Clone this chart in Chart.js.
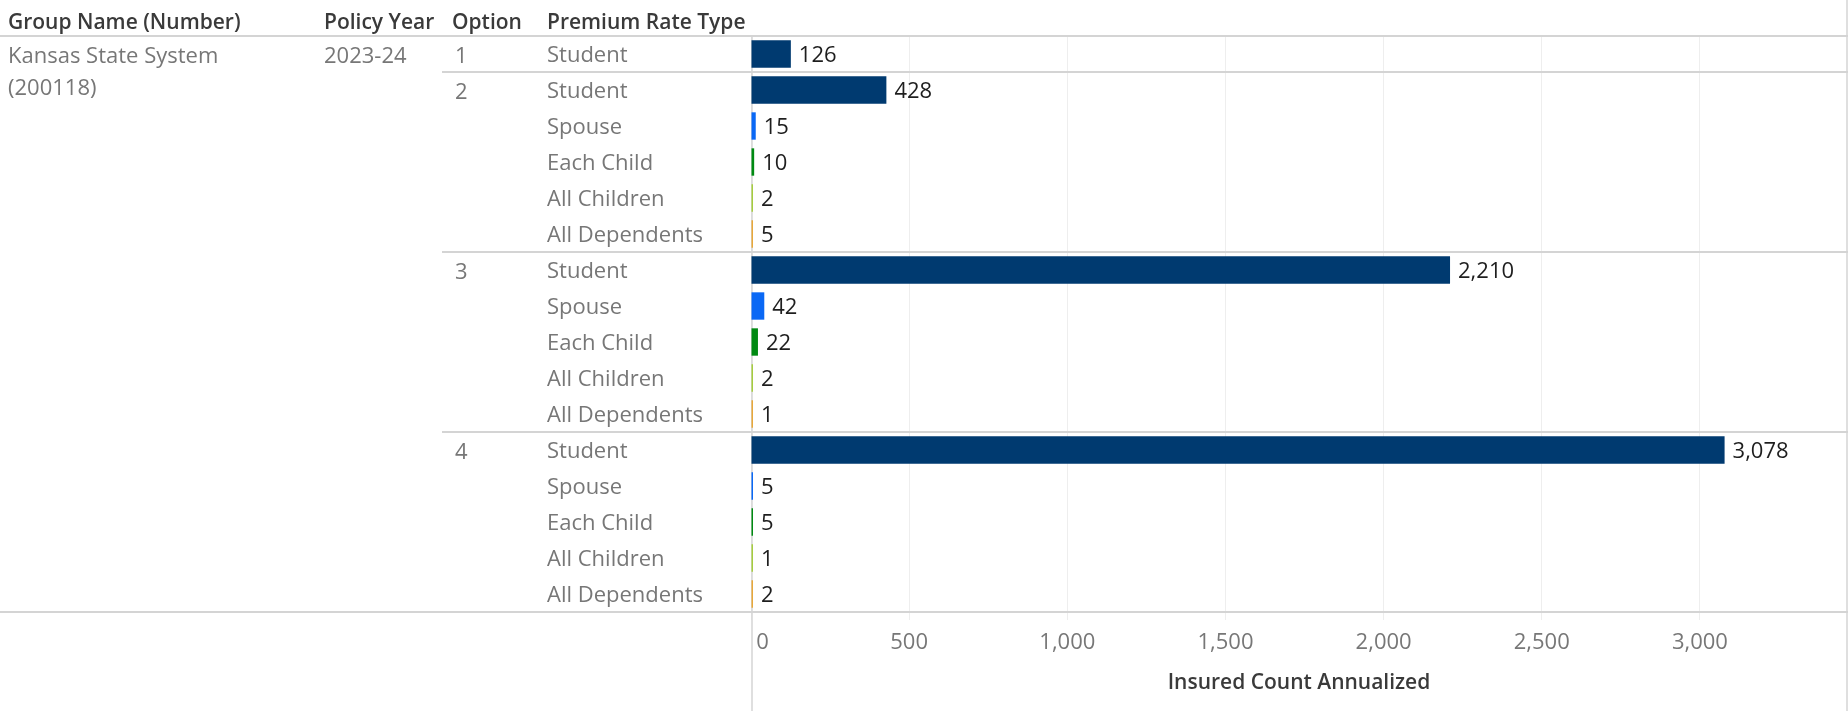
<!DOCTYPE html>
<html>
<head>
<meta charset="utf-8">
<script src="https://cdn.jsdelivr.net/npm/chart.js@4/dist/chart.umd.min.js"></script>
<style>
  html, body { margin: 0; padding: 0; background: #fff; overflow: hidden; }
  #wrap { position: relative; width: 1848px; height: 711px; }
</style>
</head>
<body>
<div id="wrap"><canvas id="chart"></canvas></div>
<script>
var headers = ['Group Name (Number)', 'Policy Year', 'Option', 'Premium Rate Type'];
var groupName = ['Kansas State System', '(200118)'];
var policyYear = '2023-24';
var options = ['1', '2', '3', '4'];
var optionSizes = [1, 5, 5, 5];
var rateTypes = [
  'Student',
  'Student', 'Spouse', 'Each Child', 'All Children', 'All Dependents',
  'Student', 'Spouse', 'Each Child', 'All Children', 'All Dependents',
  'Student', 'Spouse', 'Each Child', 'All Children', 'All Dependents'
];
var insuredCount = [
  126,
  428, 15, 10, 2, 5,
  2210, 42, 22, 2, 1,
  3078, 5, 5, 1, 2
];
var xTicks = [0, 500, 1000, 1500, 2000, 2500, 3000];
var axisTitle = 'Insured Count Annualized';

var FONT = '"Open Sans", sans-serif';
var rateColors = {
  'Student': '#003a70',
  'Spouse': '#0a68f5',
  'Each Child': '#008a12',
  'All Children': '#a6cd3e',
  'All Dependents': '#e8a83a'
};

function hline(ctx, x1, x2, y) {
  ctx.beginPath(); ctx.moveTo(x1, y); ctx.lineTo(x2, y); ctx.stroke();
}
function vline(ctx, x, y1, y2) {
  ctx.beginPath(); ctx.moveTo(x, y1); ctx.lineTo(x, y2); ctx.stroke();
}

// draws the table part: header row, left columns, separators, bar values
var tablePlugin = {
  id: 'tablePlugin',
  beforeDatasetsDraw: function(chart) {
    var ctx = chart.ctx, area = chart.chartArea, ys = chart.scales.y;
    var W = chart.width, H = chart.height;
    var half = (ys.getPixelForTick(1) - ys.getPixelForTick(0)) / 2;
    ctx.save();
    ctx.strokeStyle = '#d4d4d4';
    ctx.lineWidth = 2;
    hline(ctx, 0, W, area.top);
    var start = 0;
    optionSizes.forEach(function(n, k) {
      start += n;
      if (k < optionSizes.length - 1) {
        hline(ctx, 442, W, Math.round(ys.getPixelForTick(start) - half));
      }
    });
    hline(ctx, 0, W, area.bottom);
    ctx.lineWidth = 1.5;
    vline(ctx, chart.scales.x.getPixelForValue(0) + 1, area.top, H);
    vline(ctx, W - 1, 0, H);
    ctx.restore();
  },
  afterDatasetsDraw: function(chart) {
    var ctx = chart.ctx;
    var meta = chart.getDatasetMeta(0);
    ctx.save();
    ctx.font = '22px ' + FONT;
    ctx.fillStyle = '#1e1e1e';
    ctx.textBaseline = 'middle';
    ctx.textAlign = 'left';
    meta.data.forEach(function(el, i) {
      ctx.fillText(insuredCount[i].toLocaleString('en-US'), el.x + 8, el.y + 2);
    });
    ctx.restore();
  },
  afterDraw: function(chart) {
    var ctx = chart.ctx, ys = chart.scales.y;
    var headerX = [8, 324, 452, 547];
    ctx.save();
    ctx.textBaseline = 'middle';
    ctx.textAlign = 'left';
    ctx.font = '600 21px ' + FONT;
    ctx.fillStyle = '#3a3a3a';
    headers.forEach(function(h, i) { ctx.fillText(h, headerX[i], 23); });

    ctx.font = '22px ' + FONT;
    ctx.fillStyle = '#777';
    var y0 = ys.getPixelForTick(0) + 3;
    ctx.fillText(groupName[0], 8, y0);
    ctx.fillText(groupName[1], 8, y0 + 32);
    ctx.fillText(policyYear, 324, y0);
    var start = 0;
    options.forEach(function(o, k) {
      ctx.fillText(o, 455, ys.getPixelForTick(start) + 3);
      start += optionSizes[k];
    });
    ctx.restore();
  }
};

new Chart(document.getElementById('chart'), {
  type: 'bar',
  data: {
    labels: rateTypes,
    datasets: [{
      data: insuredCount,
      backgroundColor: rateTypes.map(function(r) { return rateColors[r]; }),
      barPercentage: 0.76,
      categoryPercentage: 1,
      minBarLength: 2
    }]
  },
  options: {
    indexAxis: 'y',
    responsive: true,
    maintainAspectRatio: false,
    animation: false,
    layout: { padding: { left: 547, top: 36, right: 1, bottom: 0 } },
    plugins: { legend: { display: false }, tooltip: { enabled: false } },
    scales: {
      y: {
        type: 'category',
        grid: { display: false },
        border: { display: false },
        ticks: {
          crossAlign: 'far',
          padding: 0,
          color: '#777',
          font: { family: FONT, size: 22 },
          labelOffset: 2
        },
        afterFit: function(scale) { scale.width = 204; }
      },
      x: {
        type: 'linear',
        min: 0,
        max: 3465,
        grid: { color: '#eeeeee', lineWidth: 1, tickLength: 8 },
        border: { display: false },
        afterBuildTicks: function(scale) {
          scale.ticks = xTicks.map(function(v) { return { value: v }; });
        },
        ticks: {
          padding: 10,
          color: '#777',
          font: { family: FONT, size: 22 },
          callback: function(v) { return v === 0 ? '    0' : Number(v).toLocaleString('en-US'); }
        },
        title: {
          display: true,
          text: axisTitle,
          color: '#3a3a3a',
          font: { family: FONT, size: 21, weight: '600' },
          padding: { top: 4, bottom: 15 }
        },
        afterFit: function(scale) { scale.height = 99; }
      }
    }
  },
  plugins: [tablePlugin]
});
</script>
</body>
</html>
